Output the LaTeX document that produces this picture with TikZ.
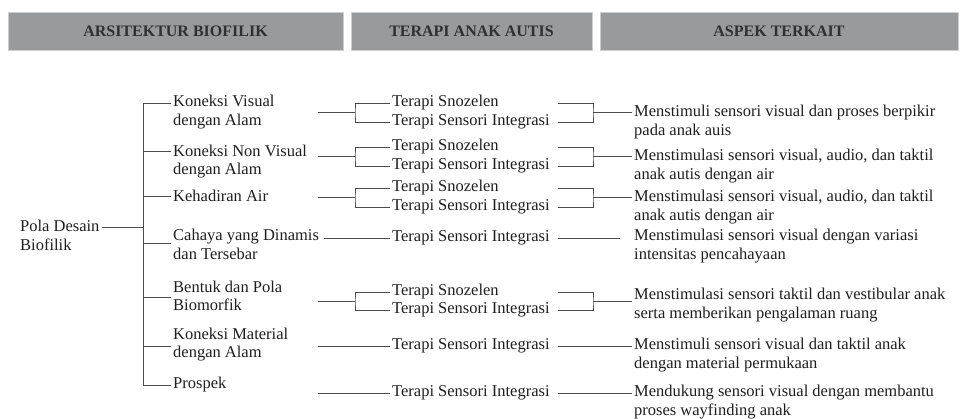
\documentclass[tikz,border=0pt]{standalone}
\usepackage{fontspec}
\setmainfont{Liberation Serif}
\definecolor{headfill}{RGB}{153,154,156}
\definecolor{headedge}{RGB}{205,205,205}
\definecolor{headtext}{RGB}{48,48,50}

\begin{document}
\begin{tikzpicture}[x=1pt, y=-1pt,
  head/.style = {draw=headedge, fill=headfill, text=headtext,
    minimum height=38pt, inner sep=0pt,
    font=\bfseries\fontsize{16}{18}\selectfont},
  item/.style = {anchor=west, align=left, inner sep=2pt,
    text=black!88, font=\fontsize{16.5}{18.5}\selectfont},
  link/.style = {draw=black!70, line width=0.9pt}]
  \useasboundingbox (0,0) rectangle (963,419);
  \fill[white] (0,0) rectangle (963,419);

  \node[head, minimum width=335pt] (hArs) at (175.5,31) {ARSITEKTUR BIOFILIK};
  \node[head, minimum width=241pt] (hTer) at (471.5,31) {TERAPI ANAK AUTIS};
  \node[head, minimum width=358pt] (hAsp) at (779,31) {ASPEK TERKAIT};

  \node[item] (pola) at (18,235.5) {Pola Desain\\Biofilik};

  \node[item] (kv)  at (171,112.25) {Koneksi Visual\\dengan Alam};
  \node[item] (knv) at (171,161.5)  {Koneksi Non Visual\\dengan Alam};
  \node[item] (ka)  at (171,196)    {Kehadiran Air};
  \node[item] (cd)  at (171,244.5)  {Cahaya yang Dinamis\\dan Tersebar};
  \node[item] (bp)  at (171,296)    {Bentuk dan Pola\\Biomorfik};
  \node[item] (km)  at (171,344.5)  {Koneksi Material\\dengan Alam};
  \node[item] (pr)  at (171,385)    {Prospek};

  \node[item] (snA) at (390,103) {Terapi Snozelen};
  \node[item] (siA) at (390,122) {Terapi Sensori Integrasi};
  \node[item] (snB) at (390,147) {Terapi Snozelen};
  \node[item] (siB) at (390,166) {Terapi Sensori Integrasi};
  \node[item] (snC) at (390,188) {Terapi Snozelen};
  \node[item] (siC) at (390,207) {Terapi Sensori Integrasi};
  \node[item] (siD) at (390,238) {Terapi Sensori Integrasi};
  \node[item] (snE) at (390,292) {Terapi Snozelen};
  \node[item] (siE) at (390,310) {Terapi Sensori Integrasi};
  \node[item] (siF) at (390,346) {Terapi Sensori Integrasi};
  \node[item] (siG) at (390,393) {Terapi Sensori Integrasi};

  \node[item] (asA) at (632,122.25) {Menstimuli sensori visual dan proses berpikir\\pada anak auis};
  \node[item] (asB) at (632,166)    {Menstimulasi sensori visual, audio, dan taktil\\anak autis dengan air};
  \node[item] (asC) at (632,207)    {Menstimulasi sensori visual, audio, dan taktil\\anak autis dengan air};
  \node[item] (asD) at (632,246)    {Menstimulasi sensori visual dengan variasi\\intensitas pencahayaan};
  \node[item] (asE) at (632,305)    {Menstimulasi sensori taktil dan vestibular anak\\serta memberikan pengalaman ruang};
  \node[item] (asF) at (632,355)    {Menstimuli sensori visual dan taktil anak\\dengan material permukaan};
  \node[item] (asG) at (632,402)    {Mendukung sensori visual dengan membantu\\proses wayfinding anak};

  \coordinate (root) at (143,227);
  \foreach \n/\y in {kv/103, knv/151, ka/196, cd/243, bp/297, km/346, pr/385}
    \coordinate (b-\n) at (143,\y);
  \draw[link] (root -| pola.east) -- (root);
  \draw[link] (b-kv -| kv.west) -- (b-kv) -- (b-pr) -- (b-pr -| pr.west);
  \foreach \n in {knv, ka, cd, bp, km}
    \draw[link] (b-\n) -- (b-\n -| \n.west);

  \foreach \g/\y in {A/112.5, B/156.5, C/197.5, D/238, E/301, F/346, G/393} {
    \coordinate (c\g) at (318,\y);
    \coordinate (k\g) at (355,\y);
    \coordinate (a\g) at (558,\y);
    \coordinate (m\g) at (593,\y);
  }
  \coordinate (cD) at (324,238);
  \foreach \g in {A, B, C, E} {
    \draw[link] (c\g) -- (k\g);
    \draw[link] (sn\g.west) -| (k\g) |- (si\g.west);
    \draw[link] (sn\g -| a\g) -| (m\g) |- (si\g -| a\g);
    \draw[link] (m\g) -- (m\g -| as\g.west);
  }
  \foreach \g in {D, F, G}
    \draw[link] (c\g) -- (si\g.west);
  \draw[link] (siD -| aD) -- ++(62,0);
  \foreach \g in {F, G}
    \draw[link] (si\g -| a\g) -- (si\g -| as\g.west);
\end{tikzpicture}
\end{document}
